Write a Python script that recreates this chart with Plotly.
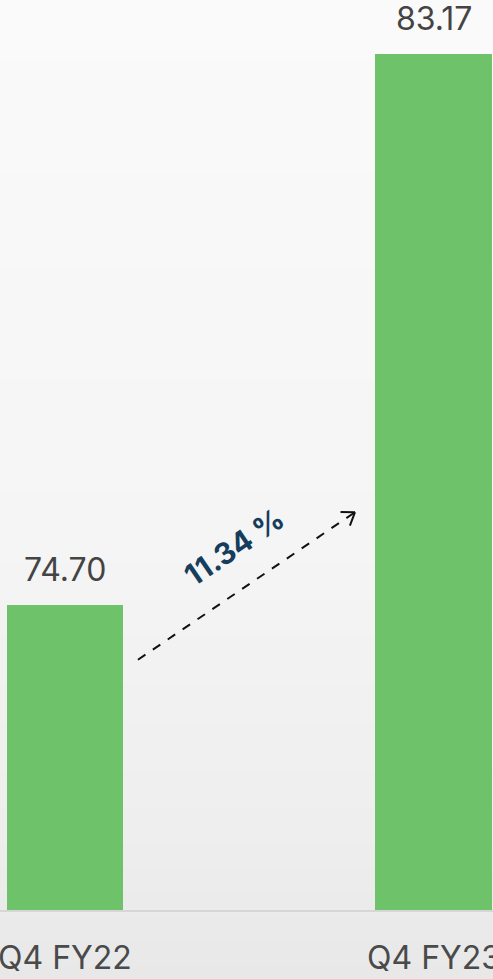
import math
import plotly.graph_objects as go

categories = ["Q4 FY22", "Q4 FY23"]
values = [74.70, 83.17]
value_labels = ["74.70", "83.17"]
growth_label = "11.34 %"

W, H = 493, 979
x_pos = list(range(len(categories)))

fig = go.Figure()
fig.add_trace(go.Bar(
    x=x_pos, y=values, width=0.315,
    marker=dict(color="#6dc26a", line=dict(width=0)),
    hoverinfo="skip", showlegend=False,
))

# value labels above bars
for xi, v, t in zip(x_pos, values, value_labels):
    fig.add_annotation(x=xi, y=v, text=t, showarrow=False, yanchor="bottom",
                       yshift=14, font=dict(family="Inter", size=32, color="#444444"))

# category labels below baseline
for xi, c in zip(x_pos, categories):
    fig.add_annotation(x=xi, y=0, xref="x", yref="paper", text=c, showarrow=False,
                       yanchor="top", yshift=-26,
                       font=dict(family="Inter", size=32, color="#4a4a4a"))

# background gradient bands (paper-wide, including below the plot area)
shapes = []
n = 80
stops = [(0.0, 250), (0.55, 245), (0.85, 238), (1.0, 232)]
def grey(f):
    for (f0, c0), (f1, c1) in zip(stops[:-1], stops[1:]):
        if f <= f1:
            return c0 + (c1 - c0) * (f - f0) / (f1 - f0)
    return stops[-1][1]
bottom_paper = -69 / 910
for i in range(n):
    f = i / (n - 1)
    g = int(round(grey(f)))
    y1 = 1 - i / n * (1 - bottom_paper)
    y0 = 1 - (i + 1) / n * (1 - bottom_paper) - 0.002
    shapes.append(dict(type="rect", xref="paper", yref="paper", layer="below",
                       x0=0, x1=1, y0=y0, y1=y1,
                       line=dict(width=0), fillcolor="rgb(%d,%d,%d)" % (g, g, g)))

# dashed growth arrow between bars
ax0, ax1 = 0.198, 0.787
ay0, ay1 = 73.85, 76.12
shapes.append(dict(type="line", xref="x", yref="y", x0=ax0, y0=ay0, x1=ax1, y1=ay1,
                   line=dict(color="#111111", width=2, dash="dash")))
fig.update_layout(shapes=shapes)

x_scale = 368.5
y_scale = 65.0
ang = math.atan2((ay1 - ay0) * y_scale, (ax1 - ax0) * x_scale)
L = 16
for d in (math.radians(35), -math.radians(35)):
    a = ang + math.pi + d
    fig.add_annotation(x=ax1, y=ay1, xref="x", yref="y",
                       ax=L * math.cos(a), ay=-L * math.sin(a),
                       text="", showarrow=True, arrowhead=0, arrowwidth=2,
                       arrowcolor="#111111", standoff=0, startstandoff=0)

mx = (ax0 + ax1) / 2 - 0.035
my = (ay0 + ay1) / 2 + 0.6
fig.add_annotation(x=mx, y=my, xref="x", yref="y", text="<b>" + growth_label + "</b>",
                   showarrow=False, textangle=-math.degrees(ang),
                   font=dict(family="Inter", size=30, color="#173d5c"))

fig.update_layout(
    width=W, height=H,
    margin=dict(l=0, r=0, t=0, b=69),
    paper_bgcolor="#ececec", plot_bgcolor="rgba(0,0,0,0)",
    xaxis=dict(range=[-65 / 368.5, (W - 65) / 368.5], showticklabels=False,
               showgrid=False, zeroline=False, showline=True, linecolor="#d6d6d6",
               linewidth=2, ticks="", fixedrange=True),
    yaxis=dict(range=[70, 84], visible=False, fixedrange=True),
    bargap=0,
)

fig.write_html("out.html")
